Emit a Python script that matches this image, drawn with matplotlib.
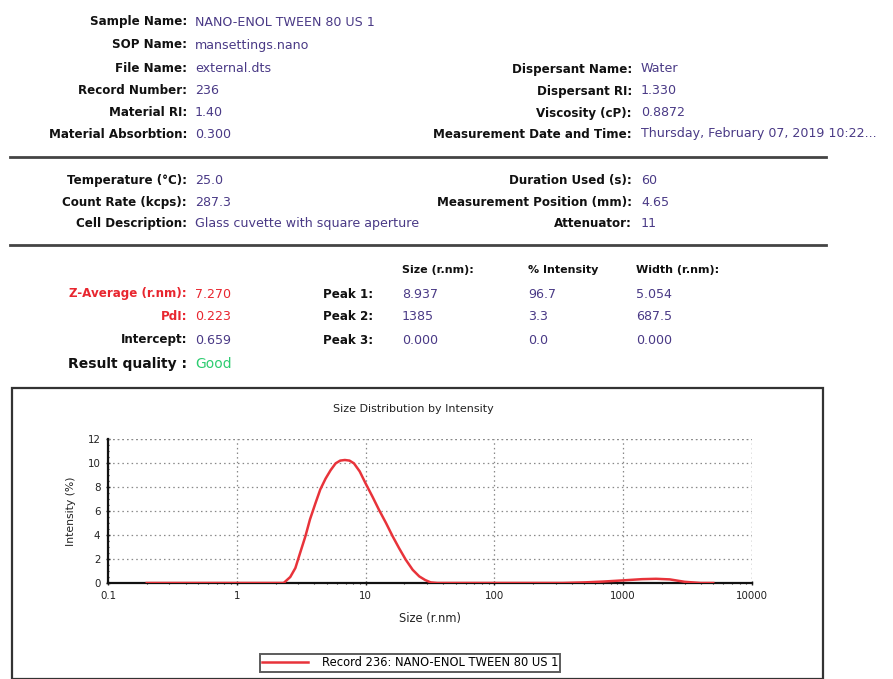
import matplotlib
matplotlib.use("Agg")
import matplotlib.pyplot as plt
from matplotlib.patches import Rectangle
from matplotlib.lines import Line2D
from matplotlib.ticker import LogLocator, MultipleLocator, FixedFormatter, FixedLocator

W, H = 893, 679

# ---------------- data ----------------
info_left_labels = ["Sample Name:", "SOP Name:", "File Name:", "Record Number:", "Material RI:", "Material Absorbtion:"]
info_left_values = ["NANO-ENOL TWEEN 80 US 1", "mansettings.nano", "external.dts", "236", "1.40", "0.300"]
info_right_labels = ["Dispersant Name:", "Dispersant RI:", "Viscosity (cP):", "Measurement Date and Time:"]
info_right_values = ["Water", "1.330", "0.8872", "Thursday, February 07, 2019 10:22..."]

cond_left_labels = ["Temperature (°C):", "Count Rate (kcps):", "Cell Description:"]
cond_left_values = ["25.0", "287.3", "Glass cuvette with square aperture"]
cond_right_labels = ["Duration Used (s):", "Measurement Position (mm):", "Attenuator:"]
cond_right_values = ["60", "4.65", "11"]

res_labels = ["Z-Average (r.nm):", "PdI:", "Intercept:"]
res_values = ["7.270", "0.223", "0.659"]
peak_labels = ["Peak 1:", "Peak 2:", "Peak 3:"]
peak_cols = ["Size (r.nm):", "% Intensity", "Width (r.nm):"]
peak_size = ["8.937", "1385", "0.000"]
peak_intensity = ["96.7", "3.3", "0.0"]
peak_width = ["5.054", "687.5", "0.000"]
quality = "Good"

sizes = [0.2, 0.3, 0.5, 0.8, 1.0, 1.5, 2.0, 2.31, 2.6, 2.85, 3.1, 3.41, 3.7, 4.08, 4.45, 4.89,
         5.35, 5.85, 6.35, 6.9, 7.5, 8.12, 9.0, 10.0, 11.3, 12.7, 14.4, 16.2, 18.2, 20.5,
         23.2, 26.1, 29.0, 32.0, 36.0, 40.0, 60.0, 100.0, 200.0, 340.0, 500.0, 700.0,
         1000.0, 1400.0, 1800.0, 2300.0, 3000.0, 4000.0, 5000.0]
intensity = [0, 0, 0, 0, 0, 0, 0, 0, 0.5, 1.25, 2.5, 3.9, 5.3, 6.65, 7.8, 8.7,
             9.4, 9.97, 10.2, 10.25, 10.2, 9.97, 9.3, 8.3, 7.2, 6.1, 5.0, 3.9, 2.9, 1.94,
             1.1, 0.55, 0.25, 0.05, 0.0, 0, 0, 0, 0, 0, 0.05, 0.12,
             0.22, 0.32, 0.35, 0.3, 0.1, 0, 0]
legend_label = "Record 236: NANO-ENOL TWEEN 80 US 1"
x_ticks = [0.1, 1, 10, 100, 1000, 10000]
x_ticklabels = ["0.1", "1", "10", "100", "1000", "10000"]
y_ticks = [0, 2, 4, 6, 8, 10, 12]

# ---------------- figure ----------------
fig = plt.figure(figsize=(W / 100, H / 100), dpi=100)
fig.patch.set_facecolor("white")

def fx(x):
    return x / W

def fy(y):
    return 1 - y / H

LBL = "#111111"
VAL = "#4a3a86"
RED = "#e8262f"
FSL = 8.6   # labels
FSV = 9.1   # values

def label(x, y, s, color=LBL, fs=FSL, bold=True):
    fig.text(fx(x), fy(y), s, ha="right", va="center", fontsize=fs,
             fontweight="bold" if bold else "normal", color=color)

def value(x, y, s, color=VAL, fs=FSV, bold=False):
    fig.text(fx(x), fy(y), s, ha="left", va="center", fontsize=fs,
             fontweight="bold" if bold else "normal", color=color)

# block 1
rows1 = [22, 45, 69, 91, 113, 134]
for lab, val, y in zip(info_left_labels, info_left_values, rows1):
    label(187, y, lab)
    value(195, y, val)
for lab, val, y in zip(info_right_labels, info_right_values, rows1[2:]):
    label(632, y, lab)
    value(641, y, val)

fig.add_artist(Line2D([fx(10), fx(826)], [fy(157), fy(157)], color="#444444", lw=2.0))

# block 2
rows2 = [181, 202, 224]
for lab, val, y in zip(cond_left_labels, cond_left_values, rows2):
    label(187, y, lab)
    value(195, y, val)
for lab, val, y in zip(cond_right_labels, cond_right_values, rows2):
    label(632, y, lab)
    value(641, y, val)

fig.add_artist(Line2D([fx(10), fx(826)], [fy(245), fy(245)], color="#444444", lw=2.0))

# block 3
col_x = [402, 528, 636]
for cx, s in zip(col_x, peak_cols):
    fig.text(fx(cx), fy(270), s, ha="left", va="center", fontsize=8.0,
             fontweight="bold", color=LBL)
rows3 = [294, 317, 340]
res_colors = [RED, RED, LBL]
val_colors = [RED, RED, VAL]
for lab, val, y, lc, vc in zip(res_labels, res_values, rows3, res_colors, val_colors):
    label(187, y, lab, color=lc)
    value(195, y, val, color=vc)
for pl, s, i, w, y in zip(peak_labels, peak_size, peak_intensity, peak_width, rows3):
    label(373, y, pl)
    value(col_x[0], y, s)
    value(col_x[1], y, i)
    value(col_x[2], y, w)
label(187, 364, "Result quality :", fs=10.0)
value(195, 364, quality, color="#2ecc71", fs=10.0)

# chart frame
fig.add_artist(Rectangle((fx(12), fy(679)), fx(823) - fx(12), fy(388) - fy(679),
                         transform=fig.transFigure, fill=False, edgecolor="#333333", lw=1.6))
fig.text(fx(413), fy(409), "Size Distribution by Intensity", ha="center", va="center",
         fontsize=8.0, color="#222222")

ax = fig.add_axes([fx(108), fy(583), fx(752) - fx(108), fy(439) - fy(583)])
line, = ax.plot(sizes, intensity, color="#e8333a", lw=1.8, label=legend_label, zorder=3)
ax.set_xscale("log")
ax.set_xlim(0.1, 10000)
ax.set_ylim(0, 12)
ax.xaxis.set_major_locator(FixedLocator(x_ticks))
ax.xaxis.set_major_formatter(FixedFormatter(x_ticklabels))
ax.xaxis.set_minor_locator(LogLocator(base=10, subs=range(2, 10)))
ax.xaxis.set_minor_formatter(FixedFormatter([]))
ax.set_yticks(y_ticks)
ax.yaxis.set_minor_locator(MultipleLocator(0.5))
ax.tick_params(axis="both", which="major", labelsize=7.4, length=3, width=1.0,
               direction="inout", colors="#222222", pad=4)
ax.tick_params(axis="both", which="minor", length=2, width=0.8, direction="inout", colors="#222222")
for side in ["top", "right"]:
    ax.spines[side].set_visible(False)
for side in ["left", "bottom"]:
    ax.spines[side].set_color("#111111")
    ax.spines[side].set_linewidth(1.6)
ax.grid(True, which="major", axis="both", linestyle=(0, (1.2, 2.5)), color="#888888", lw=0.9)
ax.axhline(12, linestyle=(0, (1.2, 2.5)), color="#888888", lw=0.9)
ax.axvline(10000, linestyle=(0, (1.2, 2.5)), color="#888888", lw=0.9)
ax.set_xlabel("Size (r.nm)", fontsize=8.3, labelpad=8, color="#222222")
ax.set_ylabel("Intensity (%)", fontsize=7.8, labelpad=8, color="#222222")
ax.set_facecolor("white")

leg = fig.legend(handles=[line], loc="center", bbox_to_anchor=(fx(410), fy(663)),
                 fontsize=8.3, frameon=True, fancybox=False, handlelength=4.0,
                 borderpad=0.2, handletextpad=1.2, edgecolor="#333333")
leg.get_frame().set_linewidth(1.4)

fig.savefig("out.png", dpi=100, facecolor="white")
